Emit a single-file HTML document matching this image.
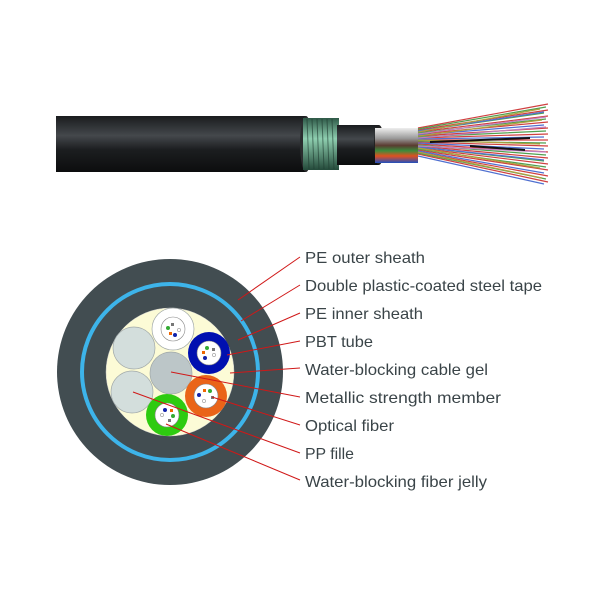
<!DOCTYPE html>
<html><head><meta charset="utf-8"><style>html,body{margin:0;padding:0;background:#fff}svg{display:block}</style></head>
<body>
<svg width="601" height="601" viewBox="0 0 601 601" xmlns="http://www.w3.org/2000/svg">
<defs>
<linearGradient id="blk" x1="0" y1="0" x2="0" y2="1">
<stop offset="0" stop-color="#1a1c1e"/><stop offset="0.35" stop-color="#44484c"/><stop offset="0.6" stop-color="#1c1e20"/><stop offset="1" stop-color="#0c0d0e"/></linearGradient>
<linearGradient id="grn" x1="0" y1="0" x2="0" y2="1">
<stop offset="0" stop-color="#2f5a48"/><stop offset="0.4" stop-color="#8fcfb0"/><stop offset="1" stop-color="#244a3a"/></linearGradient>
<linearGradient id="sil" x1="0" y1="0" x2="0" y2="1">
<stop offset="0" stop-color="#eee"/><stop offset="0.3" stop-color="#999"/><stop offset="0.5" stop-color="#5a3a30"/><stop offset="0.65" stop-color="#3c8c3c"/><stop offset="0.8" stop-color="#e05020"/><stop offset="1" stop-color="#2050c0"/></linearGradient>
</defs>
<rect x="56" y="116" width="250" height="56" fill="url(#blk)"/>
<ellipse cx="306" cy="144" rx="6" ry="28" fill="#2a2c2e"/>
<rect x="303" y="118" width="36" height="52" fill="url(#grn)"/>
<g stroke="#1f3a30" stroke-width="1" opacity="0.6">
<line x1="307" y1="119" x2="309" y2="169"/><line x1="312" y1="119" x2="314" y2="169"/><line x1="317" y1="119" x2="319" y2="169"/><line x1="322" y1="119" x2="324" y2="169"/><line x1="327" y1="119" x2="329" y2="169"/><line x1="332" y1="119" x2="334" y2="169"/>
</g>
<rect x="337" y="125" width="42" height="40" fill="url(#blk)"/>
<ellipse cx="379" cy="145" rx="5" ry="20" fill="#222"/>
<rect x="375" y="128" width="43" height="35" fill="url(#sil)"/>
<g stroke-width="1.2">
<path d="M418 128 L548 104 M418 130 L548 110 M418 132 L548 116 M418 134 L548 122 M418 136 L548 128 M418 138 L548 134 M418 140 L548 140 M418 142 L548 146 M418 144 L548 152 M418 146 L548 158 M418 148 L548 164 M418 150 L548 170 M418 152 L548 176 M418 154 L548 182" stroke="#d04040"/>
<path d="M418 129 L546 107 M418 133 L546 119 M418 137 L546 131 M418 141 L546 143 M418 145 L546 155 M418 149 L546 167 M418 153 L546 179 M418 131 L544 113 M418 147 L544 161" stroke="#50a050"/>
<path d="M418 131 L544 112 M418 135 L544 125 M418 139 L544 137 M418 143 L544 149 M418 147 L544 160 M418 151 L544 173 M418 156 L544 184" stroke="#5070d0"/>
<path d="M418 132 L540 109 M418 140 L540 144 M418 148 L540 168 M418 136 L542 120 M418 152 L542 178" stroke="#b0a040"/>
<path d="M418 138 L546 127 M418 146 L546 152 M418 134 L546 117" stroke="#c080c0"/>
<path d="M430 142 L530 138 M470 146 L525 150" stroke="#111" stroke-width="2"/>
</g>
<circle cx="170" cy="372" r="113" fill="#424d51"/>
<circle cx="170" cy="372" r="88" fill="none" stroke="#3db4ea" stroke-width="4"/>
<circle cx="170" cy="372" r="64" fill="#fcfbd6" stroke="#ccc" stroke-width="0.5"/>
<g stroke="#a0a8a8" stroke-width="0.7">
<circle cx="134" cy="348" r="21" fill="#d3dedc"/>
<circle cx="132" cy="392" r="21" fill="#d3dedc"/>
<circle cx="171" cy="373" r="21" fill="#bcc6c8"/>
<circle cx="173" cy="329" r="21" fill="#ffffff"/>
</g>
<circle cx="209" cy="353" r="21" fill="#0010b0"/>
<circle cx="206" cy="396" r="21" fill="#ea6418"/>
<circle cx="167" cy="415" r="21" fill="#2ecb10"/>
<g fill="#fff" stroke="#888" stroke-width="0.6">
<circle cx="173" cy="329" r="12"/><circle cx="209" cy="353" r="12"/><circle cx="206" cy="396" r="12"/><circle cx="167" cy="415" r="12"/>
</g>
<g>
<circle cx="168" cy="328" r="2" fill="#3a3"/><rect x="169" y="332" width="3" height="3" fill="#e60"/><circle cx="175" cy="335" r="2" fill="#12a"/><rect x="171" y="323" width="3" height="3" fill="#777"/><circle cx="179" cy="330" r="1.7" fill="#fff" stroke="#777" stroke-width="0.5"/>
<circle cx="207" cy="348" r="2" fill="#3a3"/><rect x="202" y="351" width="3" height="3" fill="#e60"/><circle cx="205" cy="358" r="2" fill="#12a"/><rect x="212" y="348" width="3" height="3" fill="#777"/><circle cx="214" cy="355" r="1.7" fill="#fff" stroke="#777" stroke-width="0.5"/>
<circle cx="210" cy="391" r="2" fill="#3a3"/><rect x="203" y="389" width="3" height="3" fill="#e60"/><circle cx="199" cy="395" r="2" fill="#12a"/><rect x="211" y="396" width="3" height="3" fill="#777"/><circle cx="204" cy="401" r="1.7" fill="#fff" stroke="#777" stroke-width="0.5"/>
<circle cx="173" cy="416" r="2" fill="#3a3"/><rect x="170" y="409" width="3" height="3" fill="#e60"/><circle cx="165" cy="410" r="2" fill="#12a"/><rect x="168" y="419" width="3" height="3" fill="#777"/><circle cx="162" cy="415" r="1.7" fill="#fff" stroke="#777" stroke-width="0.5"/>
</g>
<g stroke="#d01818" stroke-width="1" fill="none">
<line x1="238" y1="300" x2="300" y2="257"/>
<line x1="241" y1="321" x2="300" y2="285"/>
<line x1="238" y1="340" x2="300" y2="313"/>
<line x1="227" y1="355" x2="300" y2="341"/>
<line x1="230" y1="373" x2="300" y2="368"/>
<line x1="171" y1="372" x2="300" y2="397"/>
<line x1="212" y1="397" x2="300" y2="425"/>
<line x1="133" y1="392" x2="300" y2="453"/>
<line x1="166" y1="424" x2="300" y2="480"/>
</g>
<g font-family="Liberation Sans, sans-serif" font-size="16" fill="#3a4448" lengthAdjust="spacingAndGlyphs">
<text x="305" y="263" textLength="120" lengthAdjust="spacingAndGlyphs">PE outer sheath</text>
<text x="305" y="291" textLength="237" lengthAdjust="spacingAndGlyphs">Double plastic-coated steel tape</text>
<text x="305" y="319" textLength="118" lengthAdjust="spacingAndGlyphs">PE inner sheath</text>
<text x="305" y="347" textLength="68" lengthAdjust="spacingAndGlyphs">PBT tube</text>
<text x="305" y="375" textLength="183" lengthAdjust="spacingAndGlyphs">Water-blocking cable gel</text>
<text x="305" y="403" textLength="196" lengthAdjust="spacingAndGlyphs">Metallic strength member</text>
<text x="305" y="431" textLength="89" lengthAdjust="spacingAndGlyphs">Optical fiber</text>
<text x="305" y="459" textLength="49" lengthAdjust="spacingAndGlyphs">PP fille</text>
<text x="305" y="487" textLength="182" lengthAdjust="spacingAndGlyphs">Water-blocking fiber jelly</text>
</g>
</svg>
</body></html>
